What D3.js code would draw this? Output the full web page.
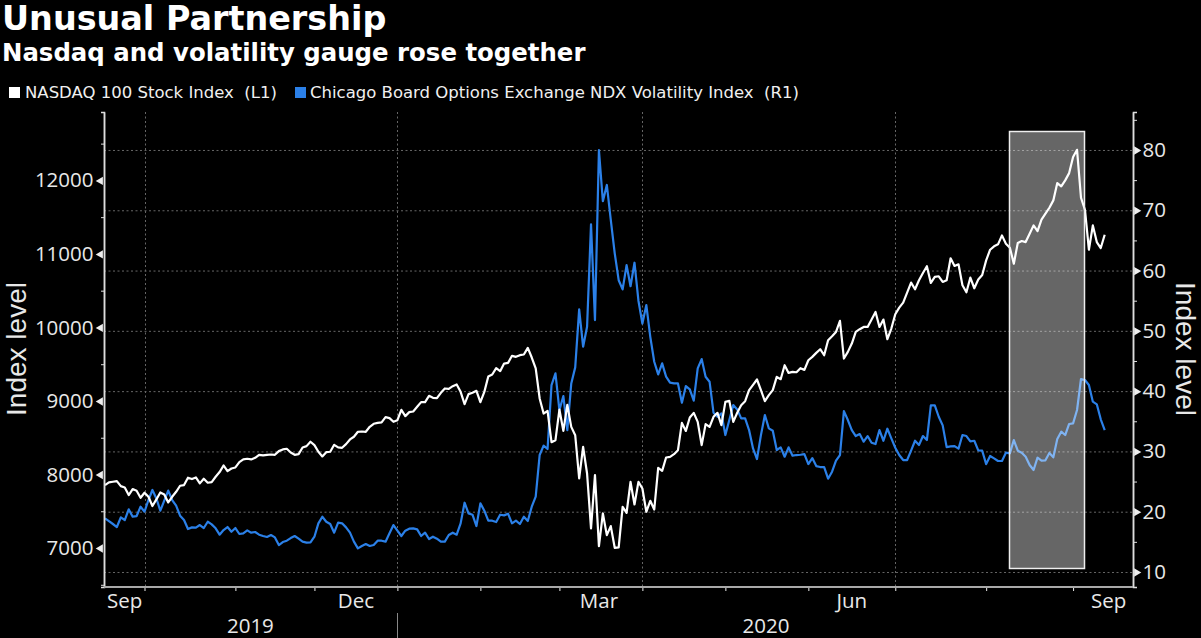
<!DOCTYPE html>
<html><head><meta charset="utf-8">
<script src="https://cdn.jsdelivr.net/npm/d3@7"></script>
<style>
html,body{margin:0;padding:0;background:#000;overflow:hidden}
svg{display:block}
text{font-family:"Open Sans",sans-serif;fill:#e8e8e8}
.title{font-family:"DejaVu Sans",sans-serif;font-weight:700;fill:#fff}
.legend{font-family:"DejaVu Sans",sans-serif;font-size:16.5px;fill:#f0f0f0}
.axt{font-family:"Liberation Sans",sans-serif;font-size:28px;fill:#e8e8e8}
</style></head><body>
<svg id="c" width="1201" height="638"></svg>
<script>
const titleText = "Unusual Partnership";
const subtitleText = "Nasdaq and volatility gauge rose together";
const legendNames = ["NASDAQ 100 Stock Index  (L1)", "Chicago Board Options Exchange NDX Volatility Index  (R1)"];
const axisTitle = "Index level";

const nasdaq = [7856,7892,7901,7910,7842,7824,7720,7802,7779,7684,7752,7697,7571,7661,7756,7729,7620,7697,7765,7847,
7856,7956,7938,7960,7879,7942,7888,7897,7969,8033,8123,8046,8082,8096,8168,8205,8214,8205,8227,8268,
8259,8268,8272,8268,8318,8341,8350,8300,8268,8277,8368,8386,8445,8400,8309,8246,8304,8309,8404,8368,
8363,8413,8477,8513,8581,8585,8581,8649,8690,8703,8708,8780,8767,8717,8739,8880,8794,8848,8857,8921,
8984,8984,9070,9043,9038,9111,9170,9165,9201,9224,9124,8957,9093,9111,9138,8984,9124,9333,9360,9446,
9405,9509,9518,9614,9600,9623,9632,9722,9591,9442,9034,8829,8865,8439,8467,8883,8593,8947,8648,8534,
7946,8376,8014,7266,7991,7026,7470,7176,7298,7003,7008,7561,7479,7900,7592,7900,7810,7493,7642,7524,
8091,8050,8231,8240,8276,8331,8702,8593,8775,8838,8716,8399,8685,8648,8784,8839,8671,8988,9002,8716,
8839,8943,8997,9147,9219,9292,9147,8997,9079,9147,9328,9296,9486,9382,9396,9391,9446,9423,9554,9600,
9654,9704,9622,9826,9880,9939,10089,9577,9668,9781,9939,9976,10007,10007,10107,10211,10007,10107,9840,9985,
10180,10270,10338,10474,10610,10519,10642,10741,10832,10605,10687,10696,10619,10642,10941,10836,10859,10574,10478,10678,
10533,10651,10714,10912,11057,11103,11130,11252,11139,11085,10867,11148,11175,11161,11275,11388,11311,11465,11547,11628,
11728,11963,11918,12000,12099,12317,12416,11764,11601,11057,11388,11161,11080,11261];

const volatility = [18.9,18.45,17.96,17.46,19.06,18.62,20.39,19.17,19.28,20.83,20,21.94,23.6,22.2,20.17,21.83,23.5,21.94,21,19.34,
18.62,17.13,17.4,17.35,17.79,17.29,18.34,17.9,17.24,16.19,16.96,17.46,16.68,17.29,16.3,16.41,16.9,16.52,16.63,16.19,
15.97,15.8,16.13,15.74,14.47,14.97,15.19,15.63,15.97,15.52,15.03,14.86,14.92,15.85,18.07,19.17,18.34,17.96,16.52,18.18,
18.07,17.4,16.52,15.03,13.92,14.31,14.64,14.31,14.47,15.19,15.19,15.03,16.41,17.79,16.85,15.97,16.85,17.18,17.24,17.07,
15.97,16.52,15.47,15.85,15.52,15.03,15.03,16.13,16.52,16.19,18.07,21.49,19.72,19.5,17.62,21.38,20.17,18.51,18.51,18.29,
19.5,19.39,19.67,18.07,18.51,17.96,19.17,18.45,20.83,22.49,29.4,30.95,30.4,41,42.95,36.86,39.18,33.54,41.28,43.94,
53.56,47.36,50.68,67.66,51.79,79.98,71.5,74.2,68.4,62.85,58.4,56.87,60.9,57.4,61.3,55,51.2,54.27,49,44.88,
42.78,44.6,42.4,41.4,41.28,41.28,38.08,40.84,40.29,38.41,43.77,45.32,42.39,41.56,36.42,35.75,36.31,32.72,35.2,37.69,
36.97,35.48,35.48,33.54,30.5,28.73,32.7,36.03,33.82,33.43,30.23,30.67,29.12,30.67,29.29,29.4,29.45,29.56,27.9,28.9,
27.57,27.41,27.41,25.47,26.63,28.46,29.4,36.69,35.2,33.54,32.55,32.88,31.61,32.55,31.44,31.22,33.54,31.77,33.77,32.16,
30.61,29.4,28.57,28.57,30.12,31.77,31.06,32.55,31.88,37.63,37.63,35.75,34.32,30.72,30.83,30.89,30.45,32.72,32.55,31.66,
31.77,30.17,30.12,27.9,29.24,28.85,28.41,28.41,29.79,29.68,31.89,30.12,29.79,29.13,27.75,26.92,28.96,28.46,28.52,29.74,
29.02,32.06,33.27,32.72,34.55,34.66,36.87,42.01,41.84,41.01,38.25,37.81,35.32,33.55];

const leftMajor = [7000,8000,9000,10000,11000,12000];
const leftMinor = [6500,7500,8500,9500,10500,11500,12500];
const rightMajor = [10,20,30,40,50,60,70,80];
const rightMinor = [15,25,35,45,55,65,75,85];
const monthStarts = [10,33,53,74,95,115,136,157,178,200,223,245];
const quarterStarts = [10,74,136,200];
const monthLabels = ["Sep","Dec","Mar","Jun","Sep"];
const monthLabelAt = [5,63.5,125,189,254];
const yearLabels = ["2019","2020"];
const yearLabelAt = [36.8,167.3];
const yearBreak = 74;

const W=1201,H=638, L=104,R=1133,T=112,B=587;
const svg=d3.select("#c");
svg.append("rect").attr("width",W).attr("height",H).attr("fill","#000");

const x=d3.scaleLinear().domain([0,253]).range([105,1104.7]);
const yL=d3.scaleLinear().domain([6470,12930]).range([B,T]);
const yR=d3.scaleLinear().domain([7.51,86.3]).range([B,T]);

// grid
const grid=svg.append("g").attr("stroke","#666").attr("stroke-width",1).attr("stroke-dasharray","2,2.5");
grid.selectAll("line.h").data(rightMajor).join("line").attr("class","h")
  .attr("x1",L).attr("x2",R).attr("y1",d=>yR(d)+.5).attr("y2",d=>yR(d)+.5);
grid.selectAll("line.v").data(quarterStarts).join("line").attr("class","v")
  .attr("y1",T).attr("y2",B).attr("x1",d=>Math.round(x(d))+.5).attr("x2",d=>Math.round(x(d))+.5);

// lines
const idx=d3.range(nasdaq.length);
const blueLine=d3.line().x(i=>x(i)).y(i=>yR(volatility[i])).curve(d3.curveLinear);
const whiteLine=d3.line().x(i=>x(i)).y(i=>yL(nasdaq[i])).curve(d3.curveLinear);
svg.append("path").attr("d",blueLine(idx)).attr("fill","none").attr("stroke","#2b80e8").attr("stroke-width",2.2).attr("stroke-linejoin","round");
svg.append("path").attr("d",whiteLine(idx)).attr("fill","none").attr("stroke","#fff").attr("stroke-width",2.2).attr("stroke-linejoin","round");

// highlight
svg.append("rect").attr("x",1009.5).attr("y",131.5).attr("width",75).attr("height",437)
  .attr("fill","#fff").attr("fill-opacity",.4).attr("stroke","#eee").attr("stroke-width",1.5);

// axes
function styleAxis(g){g.select(".domain").attr("stroke","#ddd").attr("stroke-width",1.5);
  g.selectAll(".tick line").attr("stroke","#ddd");g.selectAll("text").attr("fill","#e8e8e8").style("font-size","20.5px");}
const tri=d3.symbol().type(d3.symbolTriangle).size(30);
const axL=d3.axisLeft(yL).tickValues(leftMajor).tickSize(0).tickPadding(10.5).tickFormat(d3.format("d"));
const gL=svg.append("g").attr("transform",`translate(${L},0)`).call(axL).call(styleAxis);
const axLm=d3.axisLeft(yL).tickValues(leftMinor).tickSize(3).tickFormat("");
svg.append("g").attr("transform",`translate(${L},0)`).call(axLm).call(styleAxis);
gL.selectAll(".tick").append("path").attr("d",tri).attr("fill","#eee").attr("transform","translate(-3.5,0) rotate(-90)");

const axR=d3.axisRight(yR).tickValues(rightMajor).tickSize(0).tickPadding(9.5);
const gR=svg.append("g").attr("transform",`translate(${R},0)`).call(axR).call(styleAxis);
const axRm=d3.axisRight(yR).tickValues(rightMinor).tickSize(4).tickFormat("");
svg.append("g").attr("transform",`translate(${R},0)`).call(axRm).call(styleAxis);
gR.selectAll(".tick").append("path").attr("d",tri).attr("fill","#eee").attr("transform","translate(3.5,0) rotate(90)");

// x axis
const xScaleAxis=d3.axisBottom(x).tickValues(monthStarts).tickSize(4).tickFormat("");
const gX=svg.append("g").attr("transform",`translate(0,${B})`).call(xScaleAxis);
gX.select(".domain").remove();
gX.selectAll(".tick line").attr("stroke","#eee");
svg.append("line").attr("x1",L).attr("x2",R).attr("y1",B).attr("y2",B).attr("stroke","#a8a8a8").attr("stroke-width",2);

svg.append("g").selectAll("text").data(monthLabels).join("text")
  .attr("x",(d,i)=>x(monthLabelAt[i])).attr("y",608).attr("text-anchor","middle").style("font-size","20.5px").text(d=>d);
svg.append("g").selectAll("text").data(yearLabels).join("text")
  .attr("x",(d,i)=>x(yearLabelAt[i])).attr("y",633).attr("text-anchor","middle").style("font-size","20.5px").text(d=>d);
svg.append("line").attr("x1",Math.round(x(yearBreak))+.5).attr("x2",Math.round(x(yearBreak))+.5).attr("y1",613).attr("y2",638).attr("stroke","#888");

// axis titles
svg.append("text").attr("class","axt").attr("transform","translate(25.5,349) rotate(-90)").attr("text-anchor","middle").text(axisTitle);
svg.append("text").attr("class","axt").attr("transform","translate(1175.5,349) rotate(90)").attr("text-anchor","middle").text(axisTitle);

// titles
svg.append("text").attr("class","title").attr("x",2).attr("y",30).style("font-size","33.4px").text(titleText);
svg.append("text").attr("class","title").attr("x",2).attr("y",61).style("font-size","24.4px").text(subtitleText);

// legend
const legendX=[9,295], legendColors=["#fff","#2b80e8"], legendTextX=[25,310];
svg.append("g").selectAll("rect").data(legendNames).join("rect")
  .attr("x",(d,i)=>legendX[i]).attr("y",87).attr("width",11).attr("height",11).attr("fill",(d,i)=>legendColors[i]);
svg.append("g").selectAll("text").data(legendNames).join("text").attr("class","legend")
  .style("white-space","pre").attr("x",(d,i)=>legendTextX[i]).attr("y",98).text(d=>d);
</script></body></html>
